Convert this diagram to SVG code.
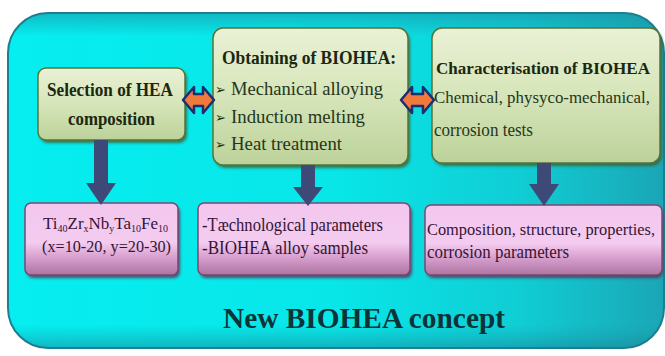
<svg xmlns="http://www.w3.org/2000/svg" width="665" height="356" viewBox="0 0 665 356">
  <defs>
    <linearGradient id="panelH" x1="0" y1="0" x2="1" y2="0">
      <stop offset="0" stop-color="#06eef0"/>
      <stop offset="0.5" stop-color="#08e6e8"/>
      <stop offset="0.78" stop-color="#10cdd4"/>
      <stop offset="1" stop-color="#1aa6b6"/>
    </linearGradient>
    <linearGradient id="panelV" x1="0" y1="0" x2="0" y2="1">
      <stop offset="0" stop-color="#1a8fa2" stop-opacity="0.55"/>
      <stop offset="0.07" stop-color="#1a8fa2" stop-opacity="0"/>
      <stop offset="0.93" stop-color="#1a8fa2" stop-opacity="0"/>
      <stop offset="1" stop-color="#1a7f92" stop-opacity="0.5"/>
    </linearGradient>
    <linearGradient id="greenFill" x1="0" y1="0" x2="0" y2="1">
      <stop offset="0" stop-color="#eaf1d6"/>
      <stop offset="0.5" stop-color="#d6e5b9"/>
      <stop offset="1" stop-color="#bcd29a"/>
    </linearGradient>
    <linearGradient id="pinkFill" x1="0" y1="0" x2="0" y2="1">
      <stop offset="0" stop-color="#f3c6ee"/>
      <stop offset="0.55" stop-color="#f4ccf0"/>
      <stop offset="0.75" stop-color="#d8a0ce"/>
      <stop offset="1" stop-color="#ad74a2"/>
    </linearGradient>
    <filter id="soft" x="-10%" y="-10%" width="120%" height="130%">
      <feGaussianBlur stdDeviation="1.5"/>
    </filter>
  </defs>
  <style>
    text { font-family: "Liberation Serif", "DejaVu Serif", "Times New Roman", serif; }
    .green { fill: url(#greenFill); stroke: #56743a; stroke-width: 1.5; }
    .greenShadow { fill: #3d5a28; opacity: 0.8; }
    .pink { fill: url(#pinkFill); stroke: #7c4770; stroke-width: 1.5; }
    .pinkShadow { fill: #5a2a50; opacity: 0.8; }
    .title { font-weight: bold; font-size: 19px; fill: #1a2810; }
    .body { font-size: 19px; fill: #26361a; }
    .pinkText { font-size: 19px; fill: #361434; }
    text.bullet { font-family: "DejaVu Sans", sans-serif; font-size: 13px; fill: #1a2810; }
    .down { fill: #3d4a78; }
    .both { fill: #f07a3e; stroke: #1a2f72; stroke-width: 2.5; stroke-linejoin: round; }
  </style>

  <!-- background panel -->
  <g id="panel">
    <rect x="8" y="13" width="656" height="335" rx="40" ry="40" fill="url(#panelH)"/>
    <rect x="8" y="13" width="656" height="335" rx="40" ry="40" fill="url(#panelV)" stroke="#1c7f8f" stroke-width="2"/>
    <text x="223" y="328" style="font-size:29px; font-weight:bold" fill="#0c3438" textLength="282" lengthAdjust="spacingAndGlyphs">New BIOHEA concept</text>
  </g>

  <!-- upper row -->
  <g id="selection">
    <rect class="greenShadow" x="40" y="71" width="147" height="72" rx="8" filter="url(#soft)"/>
    <rect class="green" x="38" y="68" width="147" height="72" rx="8"/>
    <text class="title" x="47" y="96" textLength="126" lengthAdjust="spacingAndGlyphs">Selection of HEA</text>
    <text class="title" x="68" y="125" textLength="87" lengthAdjust="spacingAndGlyphs">composition</text>
  </g>

  <g id="obtaining">
    <rect class="greenShadow" x="215" y="31" width="195" height="137" rx="10" filter="url(#soft)"/>
    <rect class="green" x="213" y="28" width="195" height="137" rx="10"/>
    <text class="title" x="222" y="64" textLength="174" lengthAdjust="spacingAndGlyphs">Obtaining of BIOHEA:</text>
    <text class="bullet" x="215" y="94">➢</text>
    <text class="bullet" x="215" y="122">➢</text>
    <text class="bullet" x="215" y="149">➢</text>
    <text class="body" x="231" y="95" textLength="152" lengthAdjust="spacingAndGlyphs">Mechanical alloying</text>
    <text class="body" x="231" y="123" textLength="134" lengthAdjust="spacingAndGlyphs">Induction melting</text>
    <text class="body" x="231" y="150" textLength="111" lengthAdjust="spacingAndGlyphs">Heat treatment</text>
  </g>

  <g id="characterisation">
    <rect class="greenShadow" x="434" y="31" width="228" height="135" rx="10" filter="url(#soft)"/>
    <rect class="green" x="432" y="28" width="228" height="135" rx="10"/>
    <text class="title" x="436" y="74" style="font-size:17.5px" textLength="214" lengthAdjust="spacingAndGlyphs">Characterisation of BIOHEA</text>
    <text class="body" x="434" y="103" style="font-size:17px" textLength="216" lengthAdjust="spacingAndGlyphs">Chemical, physyco-mechanical,</text>
    <text class="body" x="434" y="136" textLength="99" lengthAdjust="spacingAndGlyphs">corrosion tests</text>
  </g>

  <!-- lower row -->
  <g id="alloy-formula">
    <rect class="pinkShadow" x="27" y="206" width="153" height="72" rx="6" filter="url(#soft)"/>
    <rect class="pink" x="25" y="203" width="153" height="72" rx="6"/>
    <text class="pinkText" x="43" y="229" style="font-size:17px">Ti<tspan style="font-size:10px" dy="3">40</tspan><tspan dy="-3">Zr</tspan><tspan style="font-size:10px" dy="3">x</tspan><tspan dy="-3">Nb</tspan><tspan style="font-size:10px" dy="3">y</tspan><tspan dy="-3">Ta</tspan><tspan style="font-size:10px" dy="3">10</tspan><tspan dy="-3">Fe</tspan><tspan style="font-size:10px" dy="3">10</tspan></text>
    <text class="pinkText" x="42" y="252" style="font-size:17px" textLength="129" lengthAdjust="spacingAndGlyphs">(x=10-20, y=20-30)</text>
  </g>

  <g id="technological">
    <rect class="pinkShadow" x="200" y="206" width="212" height="72" rx="6" filter="url(#soft)"/>
    <rect class="pink" x="198" y="203" width="212" height="72" rx="6"/>
    <text class="pinkText" x="202" y="231" textLength="181" lengthAdjust="spacingAndGlyphs">-Tæchnological parameters</text>
    <text class="pinkText" x="202" y="254" textLength="166" lengthAdjust="spacingAndGlyphs">-BIOHEA alloy samples</text>
  </g>

  <g id="properties">
    <rect class="pinkShadow" x="427" y="208" width="236" height="70" rx="6" filter="url(#soft)"/>
    <rect class="pink" x="425" y="205" width="237" height="70" rx="6"/>
    <text class="pinkText" x="427" y="235" style="font-size:16.5px" textLength="228" lengthAdjust="spacingAndGlyphs">Composition, structure, properties,</text>
    <text class="pinkText" x="427" y="258" textLength="142" lengthAdjust="spacingAndGlyphs">corrosion parameters</text>
  </g>

  <!-- connectors -->
  <g id="connectors">
    <path class="down" d="M94,140 V183 H86 L101,205 L116,183 H108 V140 Z"/>
    <path class="down" d="M301,165 V187 H293 L308,206 L323,187 H315 V165 Z"/>
    <path class="down" d="M537,163 V184 H529 L544,206 L559,184 H551 V163 Z"/>
    <path class="both" d="M183,100 L194,87 V94 H203 V87 L214,100 L203,113 V106 H194 V113 Z"/>
    <path class="both" d="M401,100 L412,87 V94 H423 V87 L434,100 L423,113 V106 H412 V113 Z"/>
  </g>
</svg>
